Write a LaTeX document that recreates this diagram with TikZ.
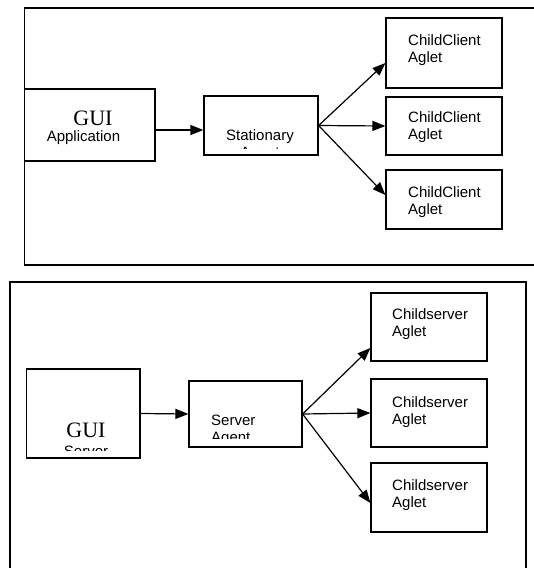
\documentclass[tikz,border=0pt]{standalone}
\usepackage{fontspec}
\setmainfont{Liberation Sans}
\newfontfamily\tnrfont{Liberation Serif}
\usetikzlibrary{arrows.meta}
\begin{document}
\begin{tikzpicture}[x=1pt,y=-1pt,
  frame/.style={draw=black, line width=1.4pt},
  box/.style={draw=black, line width=1.2pt, inner sep=0pt, fill=white},
  lbl/.style={anchor=base west, inner sep=0pt, font=\fontsize{15}{17}\selectfont, align=left},
  guilbl/.style={anchor=base, inner sep=0pt, font=\tnrfont\fontsize{22}{24}\selectfont},
  arr/.style={draw=black, line width=1.2pt, -{Triangle[length=13pt,width=10pt]}}
]
\useasboundingbox (0,0) rectangle (534,568);
% frames
\draw[frame] (540,8) -- (24.5,8) -- (24.5,265) -- (540,265);
\draw[frame] (10,575) -- (10,282) -- (526,282) -- (526,575);

% ---------- top ----------
\node[box, minimum width=130.5pt, minimum height=72pt] (gui1) at (89.75,125) {};
\node[box, minimum width=114pt, minimum height=59pt] (stat) at (261,125.5) {};
\node[box, minimum width=116pt, minimum height=70pt] (cc1) at (444,53) {};
\node[box, minimum width=116pt, minimum height=58pt] (cc2) at (444,126) {};
\node[box, minimum width=116pt, minimum height=59pt] (cc3) at (444,199.5) {};

\node[guilbl] (gui1t) at (93,125.5) {GUI};
\node[lbl, anchor=base] (gui1s) at (83.5,141) {Application};
\begin{scope}
  \clip (205,97) rectangle (317,148);
  \node[lbl, anchor=base] (statt) at (260,140) {Stationary};
  \node[lbl, anchor=base] (stats) at (260,157) {Agent};
\end{scope}
\node[lbl] (cc1t) at (408,62) {ChildClient\\Aglet};
\node[lbl] (cc2t) at (408,139) {ChildClient\\Aglet};
\node[lbl] (cc3t) at (408,214) {ChildClient\\Aglet};

\draw[arr] ([yshift=-5pt]gui1.east) -- ([yshift=-4.5pt]stat.west);
\draw[arr] (stat.east) -- ([yshift=-10pt]cc1.west);
\draw[arr] (stat.east) -- (cc2.west);
\draw[arr] (stat.east) -- ([yshift=4.5pt]cc3.west);

% ---------- bottom ----------
\node[box, minimum width=113.4pt, minimum height=89pt] (gui2) at (83.3,413.5) {};
\node[box, minimum width=113pt, minimum height=66pt] (srv) at (245.5,414) {};
\node[box, minimum width=116pt, minimum height=68pt] (cs1) at (429,327) {};
\node[box, minimum width=116pt, minimum height=68pt] (cs2) at (429,413) {};
\node[box, minimum width=116pt, minimum height=69pt] (cs3) at (429,497.5) {};

\node[guilbl] (gui2t) at (86,437) {GUI};
\begin{scope}
  \clip (28,370) rectangle (139,450);
  \node[lbl, anchor=base] (gui2s) at (86,456) {Server};
\end{scope}
\begin{scope}
  \clip (190,382) rectangle (301,438);
  \node[lbl] (srvt) at (211,442) {Server\\Agent};
\end{scope}
\node[lbl] (cs1t) at (392,336) {Childserver\\Aglet};
\node[lbl] (cs2t) at (392,424) {Childserver\\Aglet};
\node[lbl] (cs3t) at (392,507) {Childserver\\Aglet};

\draw[arr] (gui2.east) -- (srv.west);
\draw[arr] (srv.east) -- ([yshift=-21pt]cs1.west);
\draw[arr] (srv.east) -- (cs2.west);
\draw[arr] (srv.east) -- ([yshift=-5.5pt]cs3.west);
\end{tikzpicture}
\end{document}
